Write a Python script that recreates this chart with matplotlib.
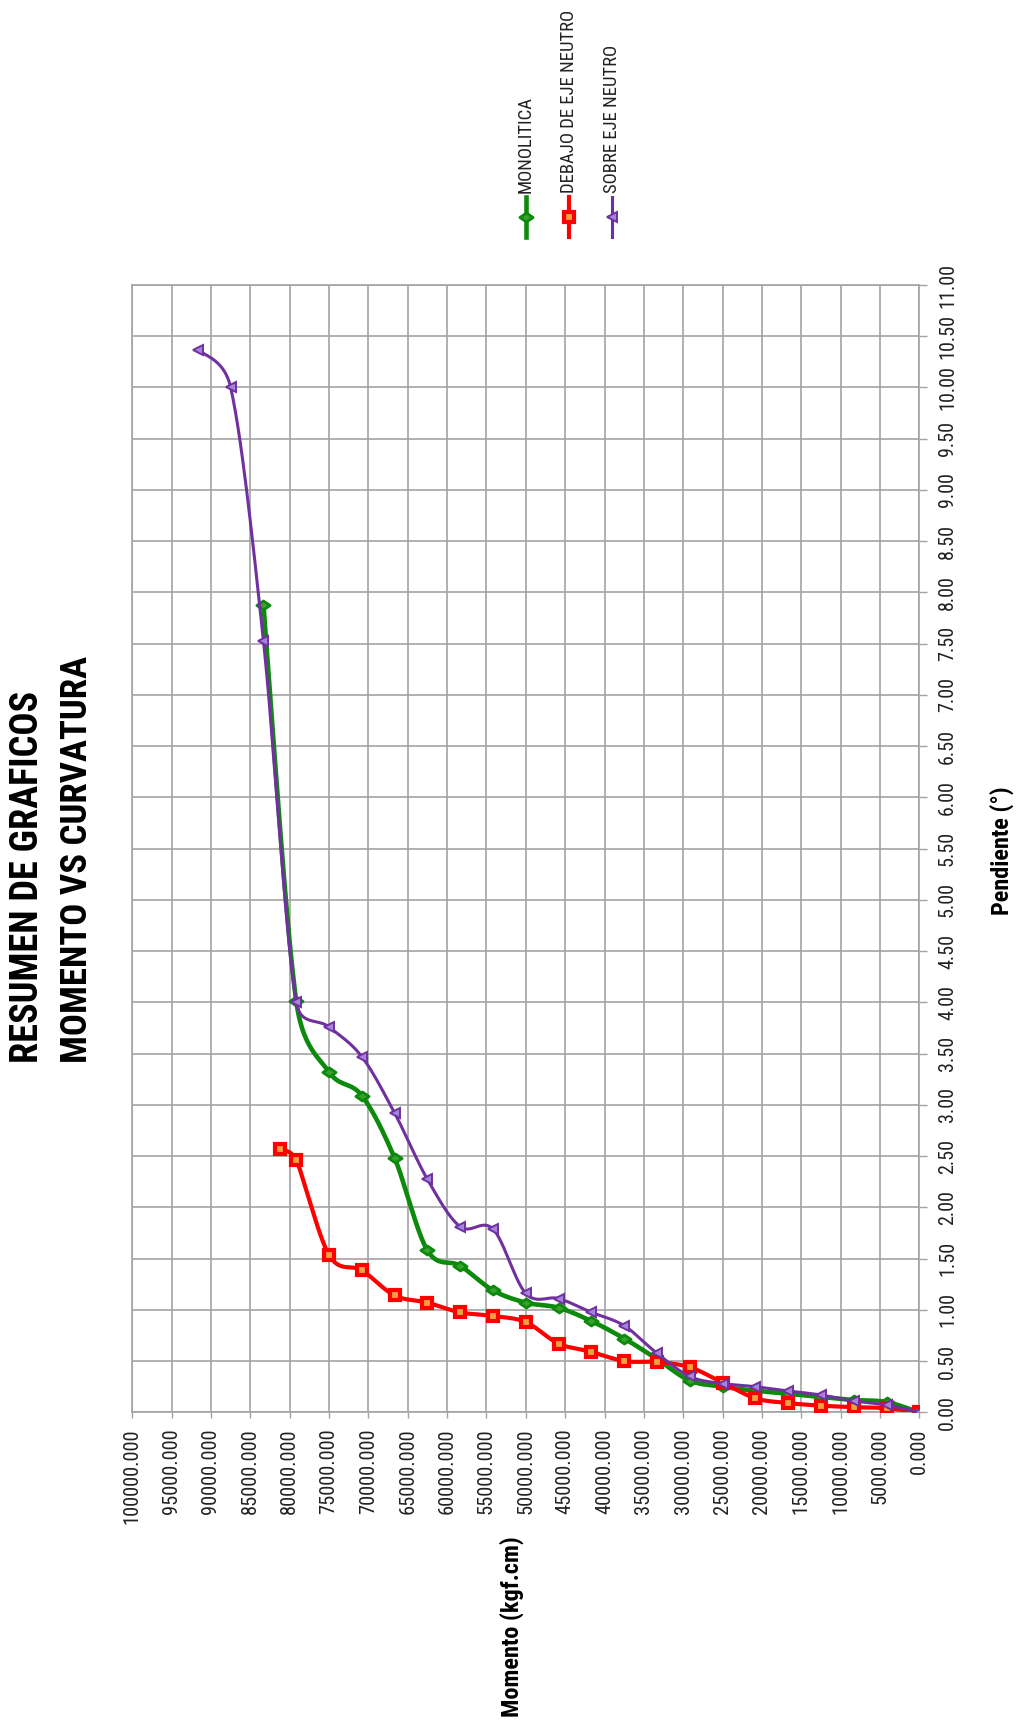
import numpy as np
import matplotlib
matplotlib.use("Agg")
import matplotlib.pyplot as plt
from matplotlib import font_manager as fm
from matplotlib.lines import Line2D
from matplotlib.path import Path

# ---------------- data ----------------
mono_momento = [0, 4167, 8333, 12500, 16667, 20833, 25000, 29167, 33333, 37500,
                41667, 45833, 50000, 54167, 58333, 62500, 66667, 70833, 75000,
                79167, 83333]
mono_pendiente = [0, 0.10, 0.12, 0.15, 0.18, 0.21, 0.25, 0.31, 0.52, 0.72,
                  0.89, 1.02, 1.07, 1.19, 1.43, 1.58, 2.48, 3.09, 3.32,
                  4.01, 7.88]

debajo_momento = [0, 4167, 8333, 12500, 16667, 20833, 25000, 29167, 33333, 37500,
                  41667, 45833, 50000, 54167, 58333, 62500, 66667, 70833, 75000,
                  79167, 81200]
debajo_pendiente = [0, 0.04, 0.05, 0.065, 0.09, 0.137, 0.29, 0.44, 0.49, 0.50,
                    0.59, 0.67, 0.88, 0.94, 0.975, 1.07, 1.14, 1.385, 1.535,
                    2.46, 2.57]

sobre_momento = [0, 4167, 8333, 12500, 16667, 20833, 25000, 29167, 33333, 37500,
                 41667, 45833, 50000, 54167, 58333, 62500, 66667, 70833, 75000,
                 79167, 83333, 87500, 91667]
sobre_pendiente = [0, 0.071, 0.11, 0.169, 0.208, 0.25, 0.28, 0.35, 0.576, 0.845,
                   0.976, 1.11, 1.16, 1.788, 1.811, 2.273, 2.92, 3.47, 3.76,
                   4.0, 7.525, 10.0, 10.37]

series_names = ["MONOLITICA", "DEBAJO DE EJE NEUTRO", "SOBRE EJE NEUTRO"]

momento_ticks = np.arange(0, 100001, 5000)
momento_labels = [f"{v:.3f}" for v in momento_ticks]
pendiente_ticks = np.arange(0, 11.01, 0.5)
pendiente_labels = [f"{v:.2f}" for v in pendiente_ticks]

title_lines = ["RESUMEN DE GRAFICOS", "MOMENTO VS CURVATURA"]
x_title = "Pendiente (°)"
y_title = "Momento (kgf.cm)"

# ---------------- fonts ----------------
FONT, K = "Liberation Sans", 0.87
for fam, k in [("Liberation Sans Narrow", 1.0), ("Roboto Condensed", 1.0),
               ("Arial Narrow", 1.0)]:
    try:
        fm.findfont(fm.FontProperties(family=fam), fallback_to_default=False)
        FONT, K = fam, k
        break
    except ValueError:
        continue
plt.rcParams["font.family"] = [FONT, "DejaVu Sans"]

W, H = 1020, 1721


def fx(px):
    return px / W


def fy(py):
    return 1 - py / H


GRID = "#a3a3a3"
TXT = "#222222"

fig = plt.figure(figsize=(W / 100, H / 100), dpi=100)
fig.patch.set_facecolor("white")

# plot area (the chart is laid out turned a quarter turn)
left, right, top, bottom = 132.3, 919.3, 285.0, 1412.3
ax = fig.add_axes([fx(left), fy(bottom), (right - left) / W, (bottom - top) / H])
ax.set_xlim(100000, 0)
ax.set_ylim(0, 11)
ax.set_axisbelow(True)
ax.grid(True, color=GRID, lw=1.2)
for sp in ax.spines.values():
    sp.set_color(GRID)
    sp.set_linewidth(1.2)

ax.set_xticks(momento_ticks, momento_labels, rotation=90, ha="center", va="top")
ax.yaxis.tick_right()
ax.set_yticks(pendiente_ticks, pendiente_labels, rotation=90, ha="left", va="center")
ax.tick_params(axis="x", direction="out", length=4.3, width=1, color=GRID,
               pad=7.5, labelsize=14.8 * K, labelcolor=TXT)
ax.tick_params(axis="y", direction="out", length=5.5, width=1, color=GRID,
               pad=8.0, labelsize=14.5 * K, labelcolor=TXT)


def smooth_curve(axis, xs, ys, steps=28, limit=0.6):
    """Bezier smoothing computed in screen space, returned in data units.

    Tangent handles follow the neighbouring points (1/6 of the span) but are
    kept shorter than a fraction of the segment they shape, so short segments
    next to long ones do not loop.
    """
    pts = axis.transData.transform(np.column_stack([xs, ys]))
    n = len(pts)
    ext = np.vstack([pts[0], pts, pts[-1]])
    t = np.linspace(0, 1, steps)[:, None]
    segs = []
    for i in range(n - 1):
        p0, p1 = ext[i + 1], ext[i + 2]
        seg_len = np.hypot(*(p1 - p0))
        h0 = (ext[i + 2] - ext[i]) / 6.0
        h1 = (ext[i + 3] - ext[i + 1]) / 6.0
        for h in (h0, h1):
            m = np.hypot(*h)
            if m > limit * seg_len and m > 0:
                h *= limit * seg_len / m
        c1 = p0 + h0
        c2 = p1 - h1
        seg = ((1 - t) ** 3) * p0 + 3 * ((1 - t) ** 2) * t * c1 \
            + 3 * (1 - t) * (t ** 2) * c2 + (t ** 3) * p1
        segs.append(seg if i == 0 else seg[1:])
    curve = np.vstack(segs)
    return axis.transData.inverted().transform(curve)


diamond = Path([(0, 0.68), (1, 0), (0, -0.68), (-1, 0), (0, 0.68)],
               [Path.MOVETO, Path.LINETO, Path.LINETO, Path.LINETO, Path.CLOSEPOLY])

styles = [
    dict(color="#0c8a0c", lw=3.3, marker=diamond, ms=9.5, mfc="#3aa030",
         mec="#0c8a0c", mew=2.0),
    dict(color="#ff0000", lw=3.0, marker="s", ms=6.8, mfc="#f7a040",
         mec="#ff0000", mew=3.0),
    dict(color="#7030a0", lw=2.2, marker="<", ms=7.0, mfc="#a585dc",
         mec="#7030a0", mew=1.4),
]
data = [(mono_momento, mono_pendiente),
        (debajo_momento, debajo_pendiente),
        (sobre_momento, sobre_pendiente)]

for k, ((mx, py), st) in enumerate(zip(data, styles)):
    curve = smooth_curve(ax, mx, py)
    ax.plot(curve[:, 0], curve[:, 1], color=st["color"], lw=st["lw"],
            solid_capstyle="round", solid_joinstyle="round", zorder=3 + 2 * k)
    ax.plot(mx, py, ls="none", marker=st["marker"], ms=st["ms"], mfc=st["mfc"],
            mec=st["mec"], mew=st["mew"], zorder=4 + 2 * k)

# ---------------- legend (vertical entries) ----------------
leg_x = [526, 569, 612]
for name, st, cx in zip(series_names, styles, leg_x):
    fig.add_artist(Line2D([fx(cx)] * 3, [fy(197), fy(217), fy(237)],
                          transform=fig.transFigure, color=st["color"],
                          lw=st["lw"], marker=st["marker"], markevery=[1],
                          ms=st["ms"], mfc=st["mfc"], mec=st["mec"], mew=st["mew"]))
    fig.text(fx(cx), fy(193), name, rotation=90, ha="center", va="bottom",
             fontsize=13.5 * K, color=TXT)

# ---------------- titles ----------------
tk = 0.84 if K < 1 else 1.0
fig.text(fx(27.5), fy(1063), title_lines[0], rotation=90, ha="center",
         va="bottom", fontsize=27.5 * tk, fontweight="bold", color="black")
fig.text(fx(77.5), fy(1063), title_lines[1], rotation=90, ha="center",
         va="bottom", fontsize=26.5 * tk, fontweight="bold", color="black")
fig.text(fx(1002), fy(851), x_title, rotation=90, ha="center", va="center",
         fontsize=17.5 * tk, fontweight="bold", color="black")
fig.text(fx(512), fy(1627), y_title, rotation=90, ha="center", va="center",
         fontsize=17.5 * tk, fontweight="bold", color="black")

fig.savefig("out.png", dpi=100, facecolor="white")
